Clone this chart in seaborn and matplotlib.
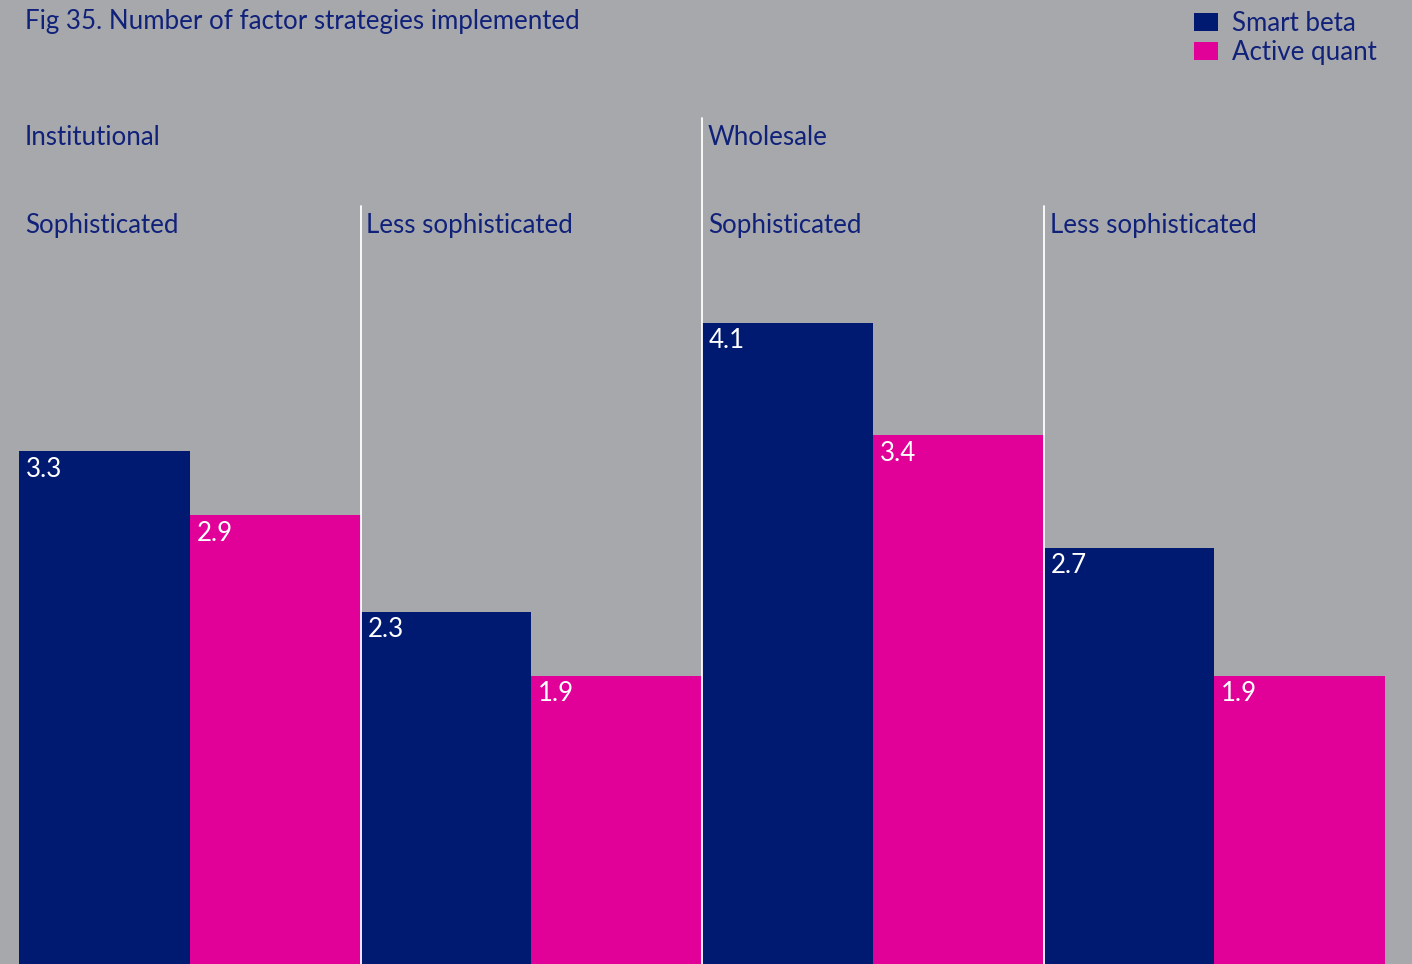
import pandas as pd
import matplotlib.pyplot as plt
import seaborn as sns
from matplotlib.patches import Patch

# Data
segments = ["Inst. sophisticated", "Inst. less sophisticated",
            "Whole. sophisticated", "Whole. less sophisticated"]
smart_beta = [3.3, 2.3, 4.1, 2.7]
active_quant = [2.9, 1.9, 3.4, 1.9]
series = ["Smart beta", "Active quant"]
top_labels = ["Institutional", "Wholesale"]
sub_labels = ["Sophisticated", "Less sophisticated",
              "Sophisticated", "Less sophisticated"]

bg = "#A7A8AC"
navy = "#001A72"
magenta = "#E10098"
txt = "#10217A"
fs = 18.6

df = pd.DataFrame({
    "segment": segments * 2,
    "series": [series[0]] * 4 + [series[1]] * 4,
    "value": smart_beta + active_quant,
})

sns.set_theme(style="white")
plt.rcParams["font.family"] = ["Lato", "DejaVu Sans"]

fig = plt.figure(figsize=(14.12, 9.64), dpi=100, facecolor=bg)
ax = fig.add_axes([0, 0, 1, 1])
ax.set_facecolor(bg)

sns.barplot(data=df, x="segment", y="value", hue="series",
            palette=[navy, magenta], width=1.0, saturation=1,
            legend=False, ax=ax, linewidth=0)

W, H = 1412, 964
ppu = 341.5
x0 = -0.5 - 19 / ppu
ax.set_xlim(x0, x0 + W / ppu)
ax.set_ylim(0.106, 6.11)
ax.axis("off")

# separator lines
for xb, top in [(0.5, 206), (1.5, 118), (2.5, 206)]:
    ax.axvline(xb, ymin=0, ymax=1 - top / H, color="white", lw=1.3, zorder=5)

# value labels
for cont, vals in zip(ax.containers, [smart_beta, active_quant]):
    for bar, v in zip(cont, vals):
        ax.annotate(f"{v:.1f}", (bar.get_x(), v), xytext=(7, -18),
                    textcoords="offset pixels", ha="left", va="center",
                    color="white", fontsize=fs)

# segment labels
tr = ax.get_xaxis_transform()
pad = 6 / ppu
ax.text(-0.5 + pad, 1 - 138 / H, top_labels[0], transform=tr, color=txt,
        fontsize=fs, va="center", ha="left")
ax.text(1.5 + pad, 1 - 138 / H, top_labels[1], transform=tr, color=txt,
        fontsize=fs, va="center", ha="left")
for i, lab in enumerate(sub_labels):
    ax.text(i - 0.5 + pad, 1 - 226 / H, lab, transform=tr, color=txt,
            fontsize=fs, va="center", ha="left")

fig.text(25 / W, 1 - 21 / H, "Fig 35. Number of factor strategies implemented",
         color=txt, fontsize=fs, va="center", ha="left")

handles = [Patch(facecolor=navy, edgecolor="none", label=series[0]),
           Patch(facecolor=magenta, edgecolor="none", label=series[1])]
leg = fig.legend(handles=handles, loc="upper right",
                 bbox_to_anchor=(1 - 25 / W, 1 - 1 / H), frameon=False,
                 fontsize=fs, handlelength=0.9, handleheight=0.7,
                 handletextpad=0.55, labelspacing=0.14, borderaxespad=0)
for t in leg.get_texts():
    t.set_color(txt)

fig.savefig("out.png", dpi=100, facecolor=bg)
